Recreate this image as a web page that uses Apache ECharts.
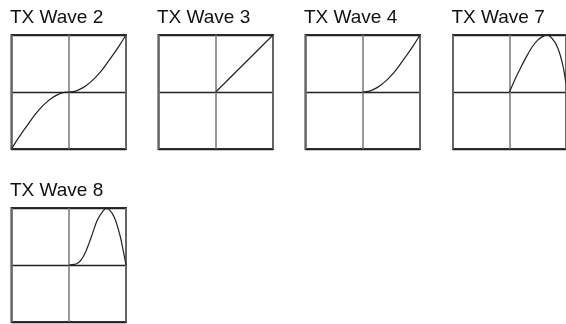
<!DOCTYPE html>
<html>
<head>
<meta charset="utf-8">
<title>TX Waves</title>
<script src="https://cdn.jsdelivr.net/npm/echarts@6/dist/echarts.min.js"></script>
<style>
  html, body { margin: 0; padding: 0; background: #fff; }
  #chart { width: 566px; height: 324px; }
</style>
</head>
<body>
<div id="chart"></div>
<script>
// panel titles
const waveNames = ['TX Wave 2', 'TX Wave 3', 'TX Wave 4', 'TX Wave 7', 'TX Wave 8']

// wave 2: full range -1..1
const wave2X = [-1, -0.9, -0.8, -0.7, -0.6, -0.5, -0.4, -0.3, -0.2, -0.1, 0, 0.1, 0.2, 0.3, 0.4, 0.5, 0.6, 0.7, 0.8, 0.9, 1]
const wave2Y = [-1, -0.84, -0.69, -0.55, -0.41, -0.29, -0.19, -0.11, -0.05, -0.01, 0, 0.01, 0.05, 0.11, 0.19, 0.29, 0.41, 0.55, 0.69, 0.84, 1]

// wave 3: straight line in the upper right quarter
const wave3X = [0, 1]
const wave3Y = [0, 1]

// wave 4
const wave4X = [0, 0.1, 0.2, 0.3, 0.4, 0.5, 0.6, 0.7, 0.8, 0.9, 1]
const wave4Y = [0, 0.01, 0.05, 0.11, 0.19, 0.29, 0.41, 0.55, 0.69, 0.84, 1]

// wave 7 (right edge is cut off by the picture)
const wave7X = [0, 0.1, 0.2, 0.3, 0.4, 0.5, 0.6, 0.66, 0.7, 0.8, 0.85, 0.9, 0.95, 1]
const wave7Y = [0, 0.23, 0.43, 0.62, 0.79, 0.91, 0.98, 1, 0.99, 0.88, 0.78, 0.64, 0.44, 0.15]

// wave 8
const wave8X = [0, 0.1, 0.15, 0.2, 0.25, 0.3, 0.35, 0.4, 0.5, 0.6, 0.65, 0.7, 0.8, 0.9, 0.95, 1]
const wave8Y = [0, 0.01, 0.03, 0.07, 0.14, 0.24, 0.37, 0.51, 0.79, 0.95, 0.99, 0.98, 0.83, 0.5, 0.26, 0]

const waveXs = [wave2X, wave3X, wave4X, wave7X, wave8X]
const waveYs = [wave2Y, wave3Y, wave4Y, wave7Y, wave8Y]

const gridLefts = [11.5, 158.5, 305.5, 453, 11.5]
const gridTops = [35, 35, 35, 35, 208]
const fontFamily = '"Liberation Sans", Arial, Helvetica, sans-serif'

const chart = echarts.init(document.getElementById('chart'))

const titles = []
const grids = []
const xAxes = []
const yAxes = []
const series = []

for (let i = 0; i < waveNames.length; i++) {
  titles.push({
    text: waveNames[i],
    left: gridLefts[i] - 1.5,
    top: gridTops[i] - 27,
    padding: 0,
    textStyle: {
      fontFamily: fontFamily,
      fontSize: 19,
      fontWeight: 'normal',
      color: '#111'
    }
  })
  grids.push({
    left: gridLefts[i],
    top: gridTops[i],
    width: 114.5,
    height: 114,
    show: true,
    borderColor: '#333',
    borderWidth: 2,
    backgroundColor: 'transparent'
  })
  xAxes.push({
    type: 'value',
    gridIndex: i,
    min: -1,
    max: 1,
    interval: 1,
    axisLine: { show: false },
    axisTick: { show: false },
    axisLabel: { show: false },
    splitLine: { show: true, lineStyle: { color: '#777', width: 1.5 }}
  })
  yAxes.push({
    type: 'value',
    gridIndex: i,
    min: -1,
    max: 1,
    interval: 1,
    axisLine: { show: false },
    axisTick: { show: false },
    axisLabel: { show: false },
    splitLine: { show: true, lineStyle: { color: '#222', width: 1.3 }}
  })
  const pts = waveXs[i].map(function(x, k) {
    return [x, waveYs[i][k]]
  })
  series.push({
    type: 'line',
    xAxisIndex: i,
    yAxisIndex: i,
    data: pts,
    smooth: i === 1 ? false : 0.3,
    showSymbol: false,
    silent: true,
    animation: false,
    lineStyle: { color: '#222', width: 1.2 }
  })
}

chart.setOption({
  animation: false,
  title: titles,
  grid: grids,
  xAxis: xAxes,
  yAxis: yAxes,
  series: series
})
</script>
</body>
</html>
